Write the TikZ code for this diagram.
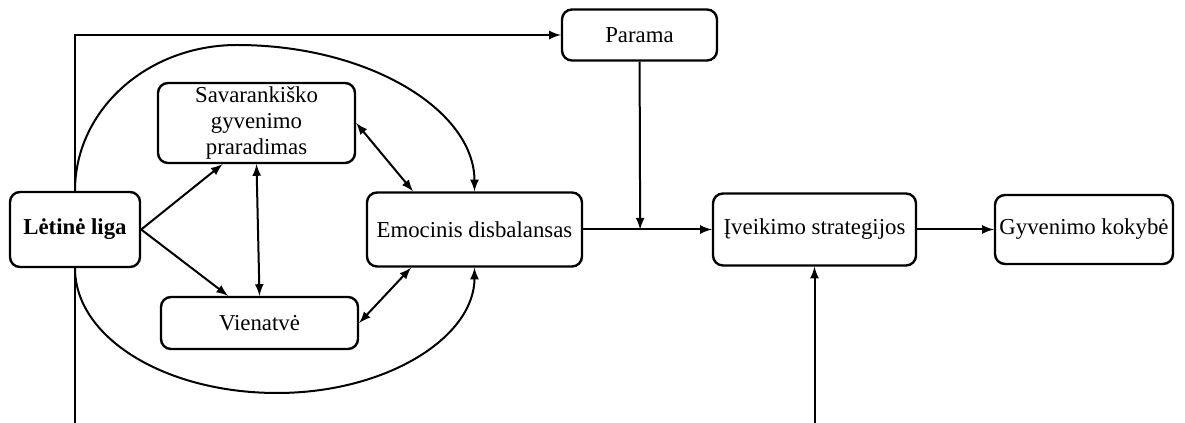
\documentclass[tikz,border=0pt]{standalone}
\usepackage{fontspec}
\setmainfont{Liberation Serif}
\usetikzlibrary{positioning}

\begin{document}
\begin{tikzpicture}[node distance=199.75pt, >=latex, font=\fontsize{11.4}{13.5}\selectfont, block/.style={rectangle, draw, rounded corners=5pt, line width=1.2pt, inner sep=2pt, align=center}, link/.style={line width=1pt}]
  {
  \useasboundingbox (-37.5pt,-96.75pt) rectangle (555pt,114.75pt);
  \node[block, minimum width=65pt, minimum height=37.5pt, font=\fontsize{11.4}{13.5}\selectfont\bfseries] (liga) {Lėtinė liga};
  \node[block, right of=liga, minimum width=107.5pt, minimum height=37pt] (emoc) {Emocinis disbalansas};
  \node[block, right of=emoc, node distance=170pt, minimum width=101.5pt, minimum height=36pt] (strat) {Įveikimo strategijos};
  \node[block, right of=strat, node distance=134.75pt, minimum width=89pt, minimum height=34.5pt] (kokybe) {Gyvenimo kokybė};
  \node[block, minimum width=98.5pt, minimum height=40pt, inner ysep=0pt, font=\fontsize{11.4}{13}\selectfont] (savar) at (90.75pt,53.25pt) {Savarankiško\\gyvenimo\\praradimas};
  \node[block, minimum width=98.5pt, minimum height=26pt] (vienat) at (92.25pt,-46.75pt) {Vienatvė};
  \node[block, minimum width=77.5pt, minimum height=25.5pt] (parama) at (282.25pt,97.25pt) {Parama};
  \node[coordinate, below of=liga, node distance=96.75pt] (ligaend) {};
  \node[coordinate, below of=strat, node distance=96.75pt] (stratin) {};
  \node[coordinate] (arctop) at (81pt,92.25pt) {};
  \node[coordinate] (arcbot) at (101pt,-81.75pt) {};

  % ratas aplink
  \draw[link, ->] (liga.north) .. controls +(0,40.6pt) and +(-44.7pt,0) .. (arctop) .. controls +(65.7pt,0) and +(0,40.6pt) .. (emoc.north);
  \draw[link, ->] (liga.south) .. controls +(0,-34.8pt) and +(-55.8pt,0) .. (arcbot) .. controls +(54.7pt,0) and +(0,-34.8pt) .. (emoc.south);

  \draw[link, ->] (liga.east) -- ([xshift=-17pt]savar.south);
  \draw[link, ->] (liga.east) -- ([xshift=-15.75pt]vienat.north);
  \draw[link, <->] (savar.south) -- (vienat.north);
  \draw[link, <->] (savar.east) -- ([xshift=-30.75pt]emoc.north);
  \draw[link, <->] (vienat.east) -- ([xshift=-31.75pt]emoc.south);

  \draw[link, ->] (emoc) -- node[coordinate, pos=0.443] (meet) {} (strat);
  \draw[link, ->] (parama) -- (meet);
  \draw[link, ->] (strat) -- (kokybe);
  \draw[link, ->] (liga.north) |- (parama.west);
  \draw[link] (liga.south) -- (ligaend);
  \draw[link, ->] (stratin) -- (strat);
  }
\end{tikzpicture}
\end{document}
